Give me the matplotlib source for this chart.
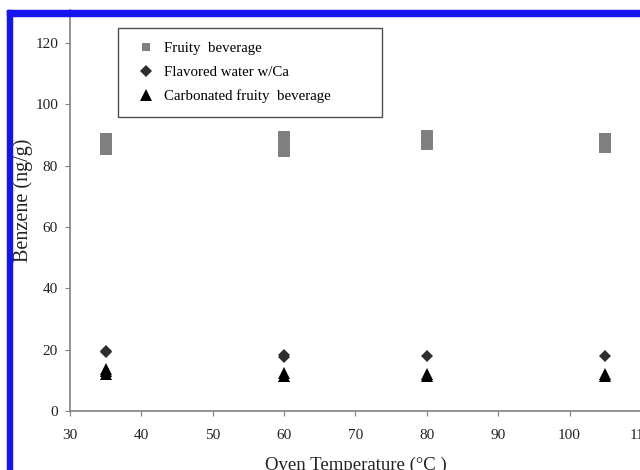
import matplotlib.pyplot as plt
from matplotlib.patches import Rectangle

# Benzene found in each drink, replicate readings at each oven temperature
fruity_temp = [35, 35, 35, 60, 60, 60, 80, 80, 80, 105, 105, 105]
fruity_benzene = [85.4, 87.0, 88.7, 84.8, 87.0, 89.3, 87.1, 88.5, 89.7, 86.1, 87.4, 88.7]

water_temp = [35, 35, 60, 60, 80, 105]
water_benzene = [19.2, 19.7, 17.6, 18.3, 17.9, 18.0]

carb_temp = [35, 35, 35, 60, 60, 80, 80, 105, 105]
carb_benzene = [12.2, 13.0, 13.6, 11.4, 12.3, 11.4, 12.1, 11.5, 12.0]

series_labels = ["Fruity  beverage", "Flavored water w/Ca", "Carbonated fruity  beverage"]
x_ticks = [30, 40, 50, 60, 70, 80, 90, 100, 110]
y_ticks = [0, 20, 40, 60, 80, 100, 120]


def main():
    plt.rcParams['font.family'] = ['Liberation Serif', 'DejaVu Serif']
    fig = plt.figure(figsize=(6.4, 4.7), dpi=100)
    ax = fig.add_axes([0.1094, 0.1255, 0.892, 0.853])

    ax.plot(fruity_temp, fruity_benzene, 's', color='#808080', markersize=8.6,
            markeredgewidth=0, label=series_labels[0])
    ax.plot(water_temp, water_benzene, 'D', color='#2e2e2e', markersize=6.0,
            markeredgewidth=0, label=series_labels[1])
    ax.plot(carb_temp, carb_benzene, '^', color='black', markersize=8.6,
            markeredgewidth=0, label=series_labels[2])

    ax.set_xlim(30, 110)
    ax.set_ylim(0, 130.7)
    ax.set_xticks(x_ticks)
    ax.set_yticks(y_ticks)

    for side in ['top', 'right']:
        ax.spines[side].set_visible(False)
    for side in ['left', 'bottom']:
        ax.spines[side].set_color('#808080')
        ax.spines[side].set_linewidth(1.2)
    ax.tick_params(axis='both', direction='out', length=3.6, width=0.8,
                   color='#808080', labelsize=11, labelcolor='#222222')
    ax.tick_params(axis='x', pad=9.5)
    ax.tick_params(axis='y', pad=5)

    ax.set_xlabel('Oven Temperature (°C )', fontsize=13.5, color='#222222')
    ax.xaxis.set_label_coords(0.5, -0.115)
    ax.set_ylabel('Benzene (ng/g)', fontsize=14.5, color='#222222', va='center')
    ax.yaxis.set_label_coords(-0.083, 0.526)

    leg = ax.legend(loc='upper left', bbox_to_anchor=(0.084, 0.0, 0.462, 0.955),
                    mode='expand', borderaxespad=0, fancybox=False, fontsize=10.7,
                    borderpad=0.93, labelspacing=0.68, handlelength=1.9,
                    handletextpad=0.3)
    leg.get_frame().set_edgecolor('#222222')
    leg.get_frame().set_linewidth(1.0)
    leg.legend_handles[0].set_markersize(6)

    # blue frame along the top and left edges
    blue = '#1414f0'
    fig.add_artist(Rectangle((7 / 640, 0), 5 / 640, 460 / 470, transform=fig.transFigure,
                             color=blue, zorder=10))
    fig.add_artist(Rectangle((7 / 640, 454 / 470), 633 / 640, 6 / 470,
                             transform=fig.transFigure, color=blue, zorder=10))

    fig.savefig('out.png', dpi=100)


if __name__ == "__main__":
    main()
